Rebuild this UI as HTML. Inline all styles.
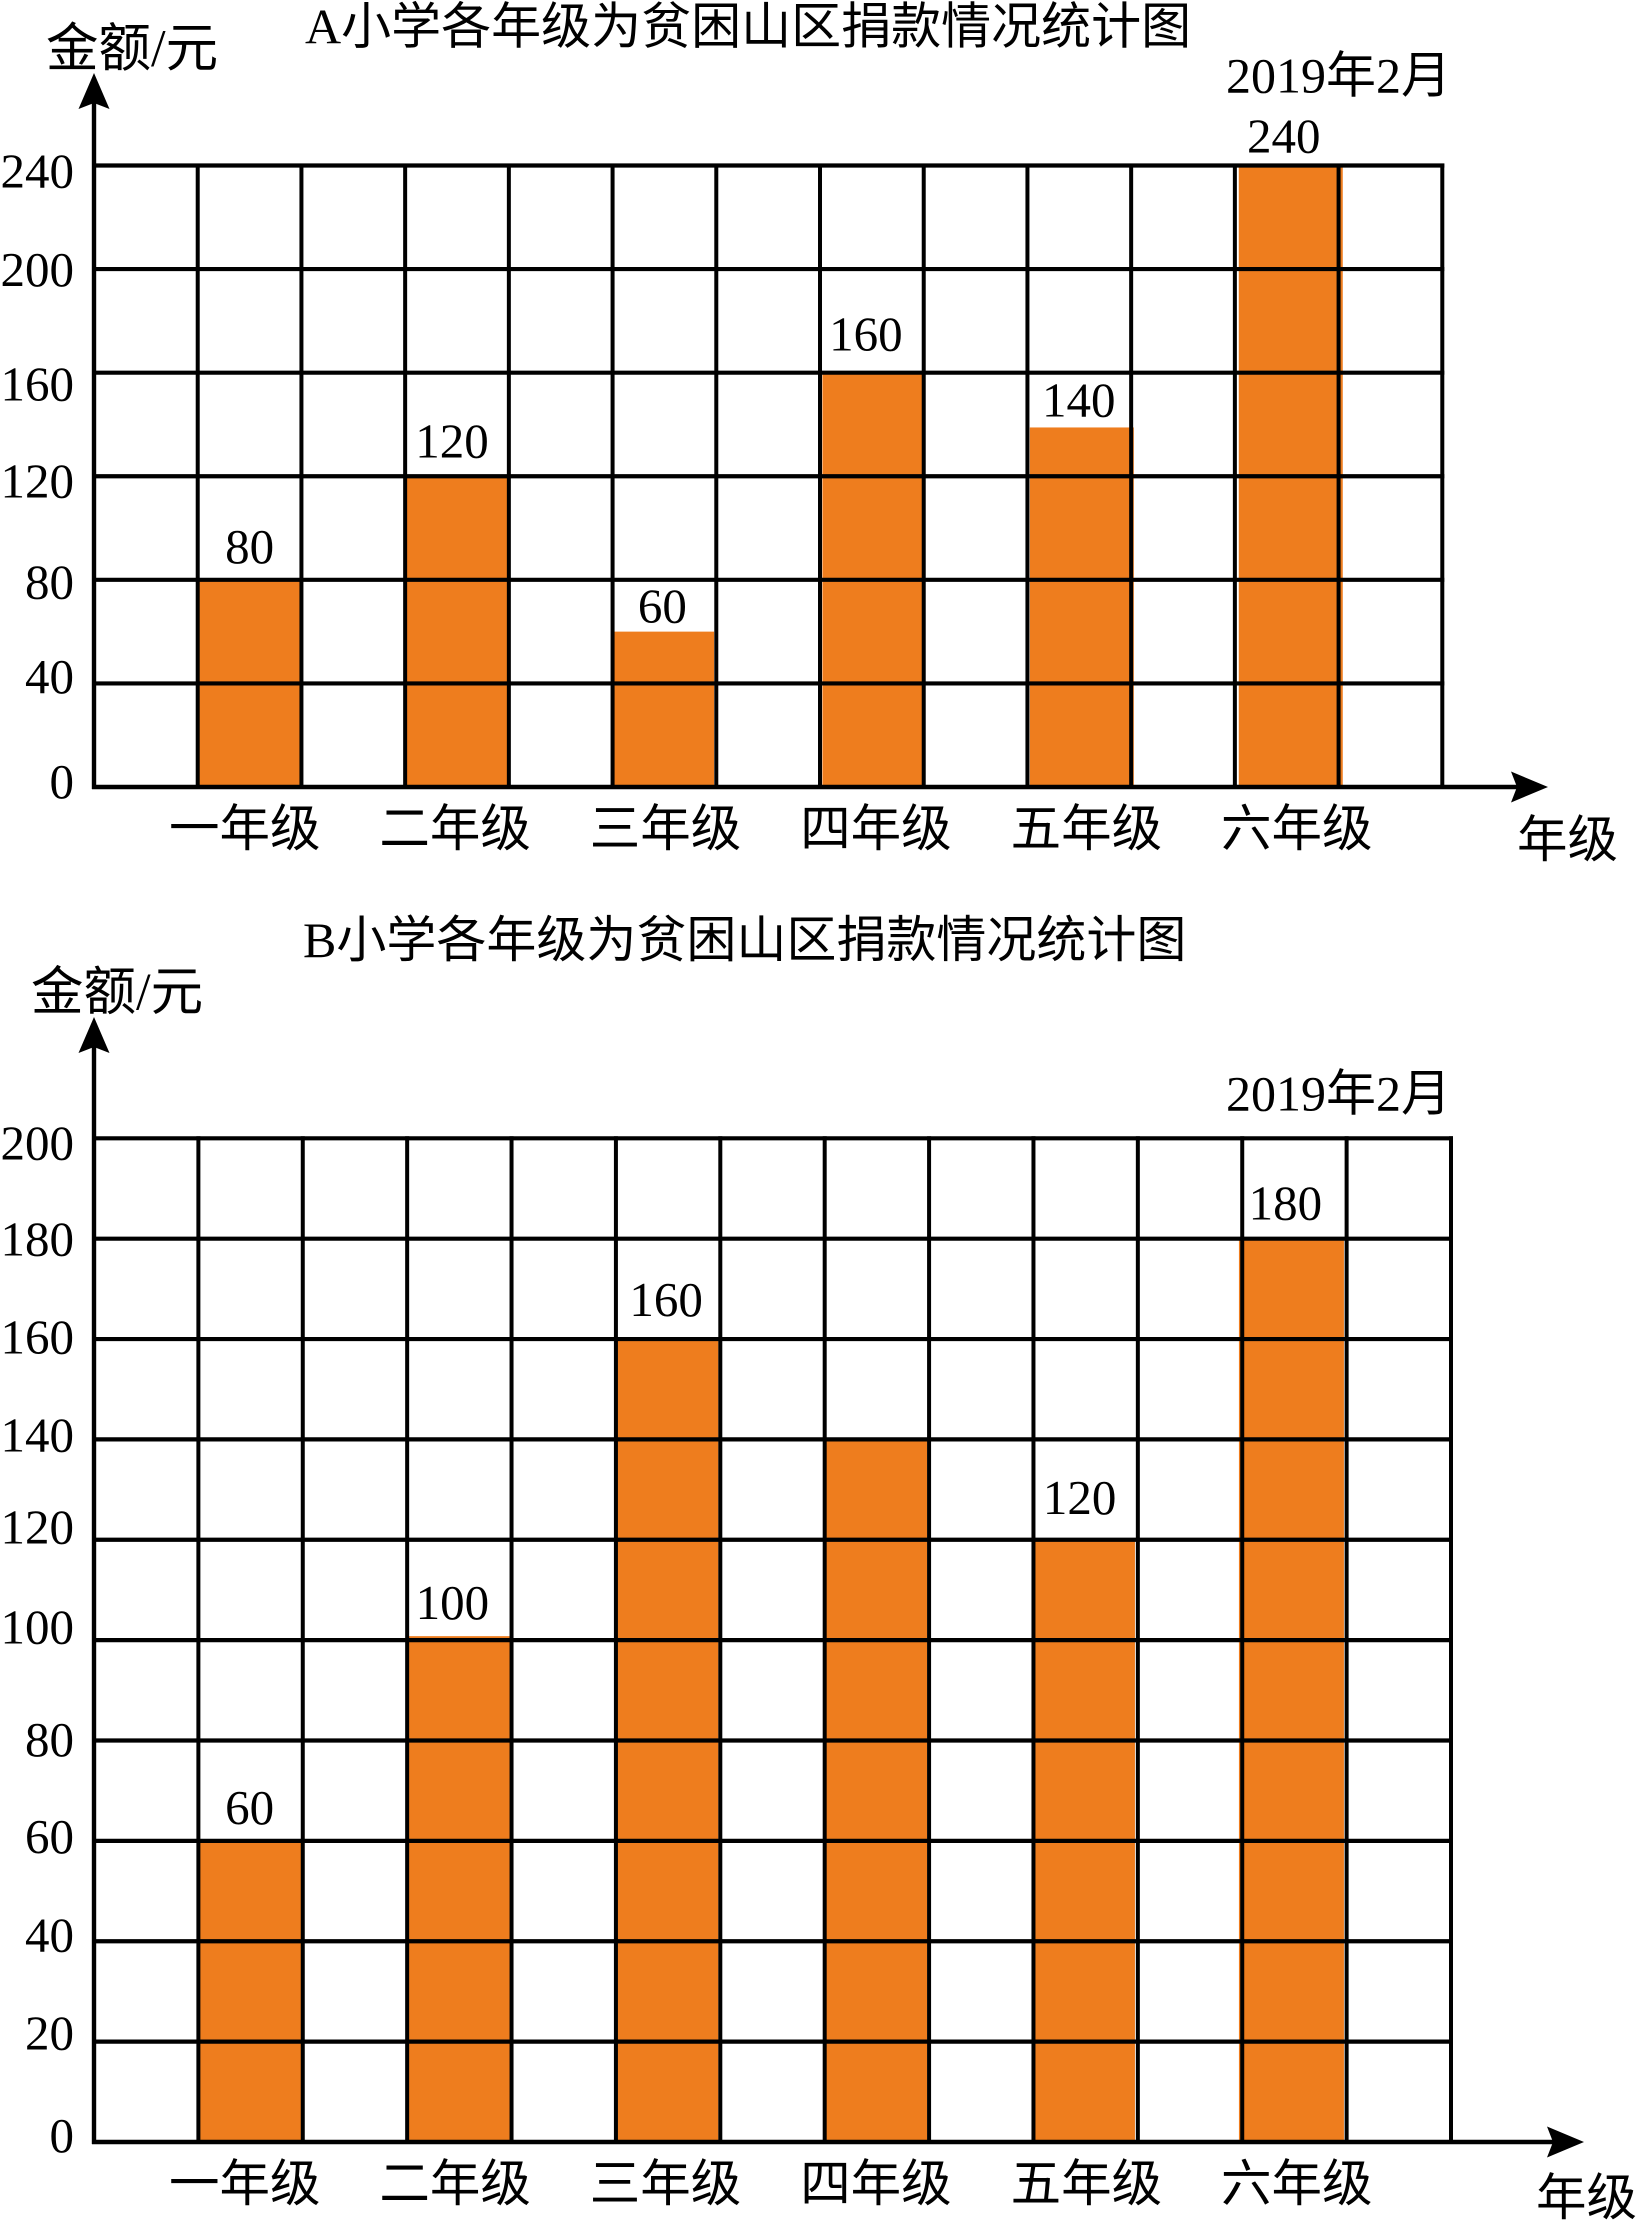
<!DOCTYPE html>
<html lang="zh">
<head>
<meta charset="utf-8">
<title>小学各年级为贫困山区捐款情况统计图</title>
<style>
html,body{margin:0;padding:0;background:#fff;width:1636px;height:2227px;overflow:hidden}
svg{display:block}
text{font-family:"Liberation Serif","Noto Sans CJK SC",serif;fill:#000}
</style>
</head>
<body>
<svg id="stage" xmlns="http://www.w3.org/2000/svg" width="1636" height="2227" viewBox="0 0 1636 2227">
  <text x="305" y="43.5" font-size="50">A小学各年级为贫困山区捐款情况统计图</text>
  <text x="46" y="66" font-size="52.5">金额/元</text>
  <text x="1226" y="92.5" font-size="50">2019年2月</text>
  <text x="1517" y="857" font-size="50.5">年级</text>
  <text x="303" y="957" font-size="50">B小学各年级为贫困山区捐款情况统计图</text>
  <text x="31" y="1009.5" font-size="52.5">金额/元</text>
  <text x="1226" y="1110.5" font-size="50">2019年2月</text>
  <text x="1536" y="2215" font-size="50.5">年级</text>
</svg>
<script>
// Chart data
const categories = ['一年级', '二年级', '三年级', '四年级', '五年级', '六年级'];
const schoolAValues = [80, 120, 60, 160, 140, 240];
const schoolBValues = [60, 100, 160, 140, 120, 180];
const schoolAPrinted = ['80', '120', '60', '160', '140', '240'];
const schoolBPrinted = ['60', '100', '160', '', '120', '180'];
const schoolATicks = [0, 40, 80, 120, 160, 200, 240];
const schoolBTicks = [0, 20, 40, 60, 80, 100, 120, 140, 160, 180, 200];

// Layout only (hand-drawn offsets of the original, no data)
const layoutA = {
  id: 'chart-a', left: 94, right: 1442.3, base: 787, top: 165.5, yTip: 73,
  xTip: 1548, catY: 846, gapLabel: [17, 19, 9, 22, 8, 13], barTopDy: [0, 0, 0, 0, 3, 0],
  labelDx: [0, -5, -2, -6, -0.5, -3], barDx: [0.3, 1, 1.5, 2.4, 2.4, 3.9], barW: [103, 101, 100, 100, 104, 104],
  tickDy: [11, 9.5, 18.5, 21, 28, 17, 22]
};
const layoutB = {
  id: 'chart-b', left: 94, right: 1451, base: 2142, top: 1138.3, yTip: 1017,
  xTip: 1584, catY: 2201, gapLabel: [17, 21, 23, 0, 26, 19], barTopDy: [0, -4, 0, 0, 0, 0],
  labelDx: [-1, -7, -2, 0, -6, -9], barDx: [0, 0, 1.4, 1.5, 0, -3.3], barW: [104, 103, 101, 101, 101.5, 105],
  tickDy: [10, 8, 10, 12, 15.5, 3.5, 3.5, 12, 14.5, 17, 21]
};

const NS = 'http://www.w3.org/2000/svg';
const stage = document.getElementById('stage');
const BAR_COLOR = '#ee7d1e';

function drawChart(values, printed, ticks, L) {
  const maxTick = ticks[ticks.length - 1];
  const cols = categories.length * 2 + 1;
  const yScale = v => L.base - (v / maxTick) * (L.base - L.top);
  const xGrid = i => L.left + i * (L.right - L.left) / cols;

  // Bars
  values.forEach((v, i) => {
    const barTop = yScale(v) + L.barTopDy[i];
    const bar = document.createElementNS(NS, 'rect');
    
    
    bar.setAttribute('x', xGrid(2 * i + 1) + L.barDx[i]);
    bar.setAttribute('y', barTop);
    bar.setAttribute('width', L.barW[i]);
    bar.setAttribute('height', L.base - barTop);
    bar.setAttribute('fill', BAR_COLOR);
    stage.appendChild(bar);
  });

  // Horizontal grid lines
  ticks.forEach((t, i) => {
    if (i > 0) {
      const h = document.createElementNS(NS, 'line');
      
      
      h.setAttribute('x1', L.left);
      h.setAttribute('x2', L.right + 2);
      h.setAttribute('y1', yScale(t));
      h.setAttribute('y2', yScale(t));
      h.setAttribute('stroke', '#000');
      h.setAttribute('stroke-width', '4.2');
      stage.appendChild(h);
    }
    const label = document.createElementNS(NS, 'text');
    
    
    label.setAttribute('x', 74);
    label.setAttribute('y', yScale(t) + L.tickDy[i]);
    label.setAttribute('text-anchor', 'end');
    label.setAttribute('font-size', '49');
    label.textContent = String(t);
    stage.appendChild(label);
  });

  // Vertical grid lines
  for (let i = 1; i <= cols; i++) {
    const g = document.createElementNS(NS, 'line');
    
    
    g.setAttribute('x1', xGrid(i));
    g.setAttribute('x2', xGrid(i));
    g.setAttribute('y1', L.top - 2);
    g.setAttribute('y2', L.base);
    g.setAttribute('stroke', '#000');
    g.setAttribute('stroke-width', '4');
    stage.appendChild(g);
  }

  // Axes
  const yAxis = document.createElementNS(NS, 'line');
  
  
  yAxis.setAttribute('x1', L.left);
  yAxis.setAttribute('x2', L.left);
  yAxis.setAttribute('y1', L.yTip + 10);
  yAxis.setAttribute('y2', L.base + 2);
  yAxis.setAttribute('stroke', '#000');
  yAxis.setAttribute('stroke-width', '4.4');
  stage.appendChild(yAxis);

  const xAxis = document.createElementNS(NS, 'line');
  
  
  xAxis.setAttribute('x1', L.left - 2);
  xAxis.setAttribute('x2', L.xTip - 10);
  xAxis.setAttribute('y1', L.base);
  xAxis.setAttribute('y2', L.base);
  xAxis.setAttribute('stroke', '#000');
  xAxis.setAttribute('stroke-width', '4.4');
  stage.appendChild(xAxis);

  const yArrow = document.createElementNS(NS, 'polygon');
  
  
  yArrow.setAttribute('points', [L.left, L.yTip, L.left + 15.5, L.yTip + 36, L.left, L.yTip + 30, L.left - 15.5, L.yTip + 36].join(' '));
  yArrow.setAttribute('fill', '#000');
  stage.appendChild(yArrow);

  const xArrow = document.createElementNS(NS, 'polygon');
  
  
  xArrow.setAttribute('points', [L.xTip, L.base, L.xTip - 37, L.base + 15.5, L.xTip - 31, L.base, L.xTip - 37, L.base - 15.5].join(' '));
  xArrow.setAttribute('fill', '#000');
  stage.appendChild(xArrow);

  // Value labels
  printed.forEach((p, i) => {
    if (!p) return;
    const vl = document.createElementNS(NS, 'text');
    
    
    vl.setAttribute('x', xGrid(2 * i + 1.5) + L.labelDx[i]);
    vl.setAttribute('y', yScale(values[i]) - L.gapLabel[i]);
    vl.setAttribute('text-anchor', 'middle');
    vl.setAttribute('font-size', '49');
    vl.textContent = p;
    stage.appendChild(vl);
  });

  // Category labels
  categories.forEach((c, i) => {
    const cl = document.createElementNS(NS, 'text');
    
    
    cl.setAttribute('x', 169 + i * 210.4);
    cl.setAttribute('y', L.catY);
    cl.setAttribute('font-size', '50.5');
    cl.textContent = c;
    stage.appendChild(cl);
  });
}

drawChart(schoolAValues, schoolAPrinted, schoolATicks, layoutA);
drawChart(schoolBValues, schoolBPrinted, schoolBTicks, layoutB);
</script>
</body>
</html>
